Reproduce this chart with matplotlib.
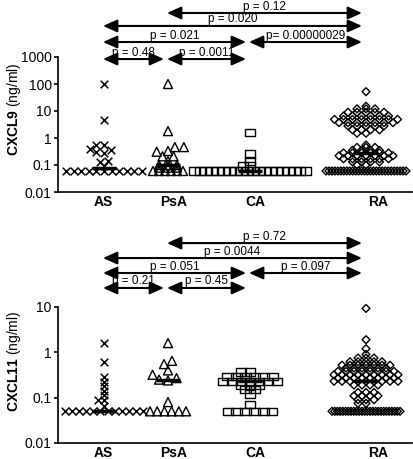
import numpy as np
import matplotlib
matplotlib.use("Agg")
import matplotlib.pyplot as plt
from matplotlib.path import Path
from matplotlib.transforms import blended_transform_factory

plt.rcParams["font.family"] = ["Liberation Sans", "DejaVu Sans"]
plt.rcParams["mathtext.fontset"] = "custom"
plt.rcParams["mathtext.rm"] = "Liberation Sans"
plt.rcParams["mathtext.bf"] = "Liberation Sans:bold"

groups = ["AS", "PsA", "CA", "RA"]

# CXCL9 (ng/ml): value levels and number of patients at each level
cxcl9_as_vals = [0.06, 0.09, 0.13, 0.14, 0.28, 0.3, 0.35, 0.4, 0.55, 4.5, 100]
cxcl9_as_n = [11, 1, 1, 1, 1, 1, 1, 1, 2, 1, 1]
cxcl9_psa_vals = [0.06, 0.08, 0.1, 0.14, 0.21, 0.31, 0.33, 0.46, 1.8, 100]
cxcl9_psa_n = [6, 3, 3, 1, 2, 1, 1, 2, 1, 1]
cxcl9_ca_vals = [0.06, 0.09, 0.14, 0.25, 1.6]
cxcl9_ca_n = [20, 2, 1, 1, 1]
cxcl9_ra_vals = [0.06, 0.1, 0.13, 0.17, 0.22, 0.28, 0.35, 0.45, 0.55,
                 1.5, 2.0, 2.8, 3.7, 4.9, 6.5, 9, 12, 15, 52]
cxcl9_ra_n = [28, 2, 4, 6, 7, 6, 4, 3, 1, 2, 4, 5, 7, 8, 6, 5, 3, 1, 1]

# CXCL11 (ng/ml)
cxcl11_as_vals = [0.05, 0.065, 0.09, 0.115, 0.14, 0.18, 0.22, 0.29, 0.6, 1.6]
cxcl11_as_n = [12, 1, 2, 1, 1, 1, 1, 1, 1, 1]
cxcl11_psa_vals = [0.05, 0.08, 0.24, 0.25, 0.27, 0.32, 0.4, 0.55, 0.65, 1.6]
cxcl11_psa_n = [6, 1, 1, 1, 1, 1, 1, 1, 1, 1]
cxcl11_ca_vals = [0.05, 0.07, 0.12, 0.15, 0.19, 0.23, 0.29, 0.37]
cxcl11_ca_n = [6, 1, 1, 2, 3, 7, 6, 2]
cxcl11_ra_vals = [0.05, 0.075, 0.09, 0.11, 0.13, 0.19, 0.23, 0.27, 0.32,
                  0.38, 0.45, 0.52, 0.62, 0.75, 0.9, 1.2, 1.9, 9.3]
cxcl11_ra_n = [26, 2, 3, 4, 3, 4, 9, 8, 9, 8, 6, 7, 5, 3, 1, 1, 1, 1]

cxcl9_p = [("PsA", "RA", "p = 0.12"), ("AS", "RA", "p = 0.020"),
           ("AS", "CA", "p = 0.021"), ("CA", "RA", "p= 0.00000029"),
           ("AS", "PsA", "p = 0.48"), ("PsA", "CA", "p = 0.0011")]
cxcl11_p = [("PsA", "RA", "p = 0.72"), ("AS", "RA", "p = 0.0044"),
            ("AS", "CA", "p = 0.051"), ("CA", "RA", "p = 0.097"),
            ("AS", "PsA", "p = 0.21"), ("PsA", "CA", "p = 0.45")]
p_rows = [0, 1, 2, 2, 3, 3]

# layout (x axis in pixel-like units)
xpos = [46, 110, 192, 308]
label_x = [45, 116, 197, 320]
rect = Path([(-1, -0.7), (1, -0.7), (1, 0.7), (-1, 0.7), (-1, -0.7)],
            [Path.MOVETO, Path.LINETO, Path.LINETO, Path.LINETO, Path.CLOSEPOLY])
styles = [dict(marker="x", s=30, c="black", linewidths=1.1),
          dict(marker="^", s=42, facecolors="none", edgecolors="black", linewidths=1.0),
          dict(marker=rect, s=60, facecolors="none", edgecolors="black", linewidths=1.0),
          dict(marker="D", s=16, facecolors="none", edgecolors="black", linewidths=1.0)]


def scatter_x(ax, center, vals, counts, gx, gy, row_w):
    # levels with 3+ points become centred rows (lowest one squeezed to row_w),
    # the remaining points go through a small beeswarm
    y = np.repeat(vals, counts).astype(float)
    pts = ax.transData.transform(np.column_stack([np.full(len(y), center), y]))
    cx, ys = pts[0, 0], pts[:, 1]
    off = np.zeros(len(y))
    in_row = np.zeros(len(y), bool)
    start = 0
    for k, n in enumerate(counts):
        if n >= 3:
            step = row_w / (n - 1) if k == 0 else gx
            off[start:start + n] = (np.arange(n) - (n - 1) / 2) * step
            in_row[start:start + n] = True
        start += n
    placed = []
    for i in np.argsort(ys):
        if in_row[i]:
            continue
        cands = [0.0]
        for px, py in placed:
            dy = ys[i] - py
            if abs(dy) < gy:
                dx = gx * np.sqrt(1 - (dy / gy) ** 2)
                cands += [px - dx, px + dx]
        cands.sort(key=abs)
        for c in cands:
            if all(((c - px) / gx) ** 2 + ((ys[i] - py) / gy) ** 2 >= 1 - 1e-6 for px, py in placed):
                off[i] = c
                break
        placed.append((off[i], ys[i]))
    back = ax.transData.inverted().transform(np.column_stack([cx + off, ys]))
    return back[:, 0], y


def draw_panel(ax, data, ymax, yticks, ylabel, label_y, comps, row_y, gaps, row_ws):
    ax.set_yscale("log")
    ax.set_ylim(0.01, ymax)
    ax.set_xlim(0, 354)
    for s in ["top", "right"]:
        ax.spines[s].set_visible(False)
    for s in ["left", "bottom"]:
        ax.spines[s].set_linewidth(1.2)
    ax.set_yticks(yticks)
    ax.set_yticklabels([f"{t:g}" for t in yticks], fontsize=10)
    ax.yaxis.set_minor_locator(matplotlib.ticker.NullLocator())
    ax.tick_params(axis="y", length=3, width=1.2, pad=1.5)
    ax.set_xticks(label_x)
    ax.set_xticklabels(groups, fontsize=10, fontweight="bold")
    ax.tick_params(axis="x", length=0, pad=2.5)
    ax.set_ylabel(ylabel, fontsize=10)
    ax.yaxis.set_label_coords(-0.1, label_y)

    for k, (vals, counts) in enumerate(data):
        gx, gy = gaps[k]
        x, y = scatter_x(ax, xpos[k], vals, counts, gx, gy, row_ws[k])
        ax.scatter(x, y, clip_on=False, zorder=3, **styles[k])
        ax.hlines(np.median(y), xpos[k] - 12, xpos[k] + 12, color="black", lw=2.5, zorder=4)

    trans = blended_transform_factory(ax.transData, ax.transAxes)
    for (a, b, txt), r in zip(comps, p_rows):
        x0 = xpos[groups.index(a)] - 1
        x1 = xpos[groups.index(b)] - 4
        yy = row_y[r]
        ax.annotate("", xy=(x1, yy), xytext=(x0, yy), xycoords=trans, textcoords=trans,
                    annotation_clip=False,
                    arrowprops=dict(arrowstyle="<|-|>,head_length=0.85,head_width=0.38",
                                    mutation_scale=10, lw=1.5, color="black",
                                    shrinkA=0, shrinkB=0))
        ax.annotate(txt, xy=((x0 + x1) / 2, yy), xycoords=trans, xytext=(0, 2.5),
                    textcoords="offset points", ha="center", va="baseline",
                    fontsize=8.5, annotation_clip=False)


fig = plt.figure(figsize=(4.13, 4.59), dpi=100)
ax1 = fig.add_axes([58 / 413, 1 - 192 / 459, 354 / 413, 135 / 459])
ax2 = fig.add_axes([58 / 413, 1 - 443 / 459, 354 / 413, 136 / 459])

draw_panel(ax1,
           [(cxcl9_as_vals, cxcl9_as_n), (cxcl9_psa_vals, cxcl9_psa_n),
            (cxcl9_ca_vals, cxcl9_ca_n), (cxcl9_ra_vals, cxcl9_ra_n)],
           1000, [0.01, 0.1, 1, 10, 100, 1000], r"$\mathbf{CXCL9}$ (ng/ml)", 0.61,
           cxcl9_p, [1.326, 1.23, 1.111, 0.985],
           gaps=[(8, 5), (9, 6), (7, 5), (9, 4)], row_ws=[76, 30, 112, 80])
draw_panel(ax2,
           [(cxcl11_as_vals, cxcl11_as_n), (cxcl11_psa_vals, cxcl11_psa_n),
            (cxcl11_ca_vals, cxcl11_ca_n), (cxcl11_ra_vals, cxcl11_ra_n)],
           10, [0.01, 0.1, 1, 10], r"$\mathbf{CXCL11}$ (ng/ml)", 0.60,
           cxcl11_p, [1.47, 1.36, 1.25, 1.14],
           gaps=[(6, 3.8), (9, 7), (9, 5), (8, 4)], row_ws=[78, 36, 44, 68])

fig.savefig("out.png", dpi=100)
plt.close(fig)
